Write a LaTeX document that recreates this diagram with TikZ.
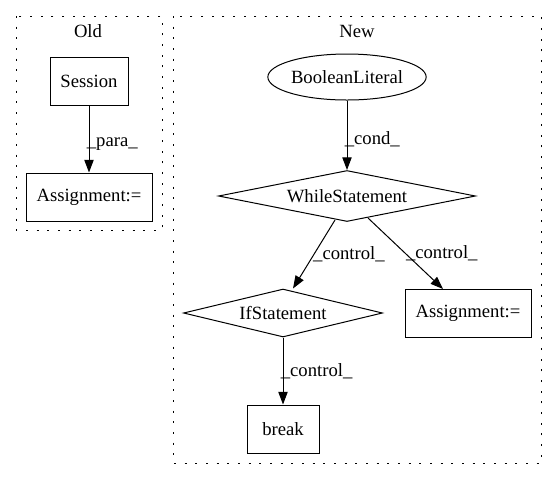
\documentclass[tikz,border=0pt]{standalone}
\usepackage{fontspec}
\setmainfont{Liberation Serif}
\usetikzlibrary{shapes.geometric,arrows.meta}
\begin{document}
\begin{tikzpicture}[x=0.75pt,y=-0.75pt,
  every node/.style={font=\fontsize{14pt}{16pt}\selectfont},
  cluster/.style={draw,line width=0.75pt,dash pattern=on 1.5pt off 6.5pt},
  box/.style={draw,line width=0.75pt,rectangle,inner sep=0pt},
  dia/.style={draw,line width=0.75pt,diamond,inner sep=0pt},
  ell/.style={draw,line width=0.75pt,ellipse,inner sep=0pt},
  edge/.style={draw,line width=0.75pt,-{Triangle[length=9.5pt,width=7pt]}},
  lab/.style={inner sep=1pt}]
\useasboundingbox (0,0) rectangle (557,480);
% clusters
\draw[cluster] (16,16) rectangle (162,230);
\node (oldlab) at (88,31) {Old};
\draw[cluster] (173,16) rectangle (541,463);
\node (newlab) at (357,31) {New};
% old nodes
\node[box,minimum width=78*0.75pt,minimum height=48*0.75pt] (sess) at (89,81) {Session};
\node[box,minimum width=126*0.75pt,minimum height=48*0.75pt] (asg1) at (89,197) {Assignment:=};
\draw[edge] (sess) -- node[lab,right,pos=0.58,xshift=-3pt] {\_para\_} (asg1);
% new nodes
\node[ell,minimum width=114*0.75pt,minimum height=46*0.75pt] (bool) at (347,77) {BooleanLiteral};
\node[dia,minimum width=257*0.75pt,minimum height=51*0.75pt,aspect=5] (while) at (347,196) {WhileStatement};
\node[dia,minimum width=199*0.75pt,minimum height=48*0.75pt,aspect=4] (ifst) at (283,313) {IfStatement};
\node[box,minimum width=126*0.75pt,minimum height=48*0.75pt] (asg2) at (468,313) {Assignment:=};
\node[box,minimum width=72*0.75pt,minimum height=48*0.75pt] (brk) at (283,429) {break};
\coordinate (wl) at (335,220);
\coordinate (wr) at (368,218);
\draw[edge] (bool) -- node[lab,right,pos=0.55,xshift=-3pt] {\_cond\_} (while);
\draw[edge] (wl) -- node[lab,right,pos=0.5,xshift=-2pt] {\_control\_} (ifst.north -| 293,0);
\draw[edge] (wr) -- node[lab,right,pos=0.5,xshift=-1pt] {\_control\_} (443,289);
\draw[edge] (ifst) -- node[lab,right,pos=0.5,xshift=-3pt] {\_control\_} (brk);
\end{tikzpicture}
\end{document}
